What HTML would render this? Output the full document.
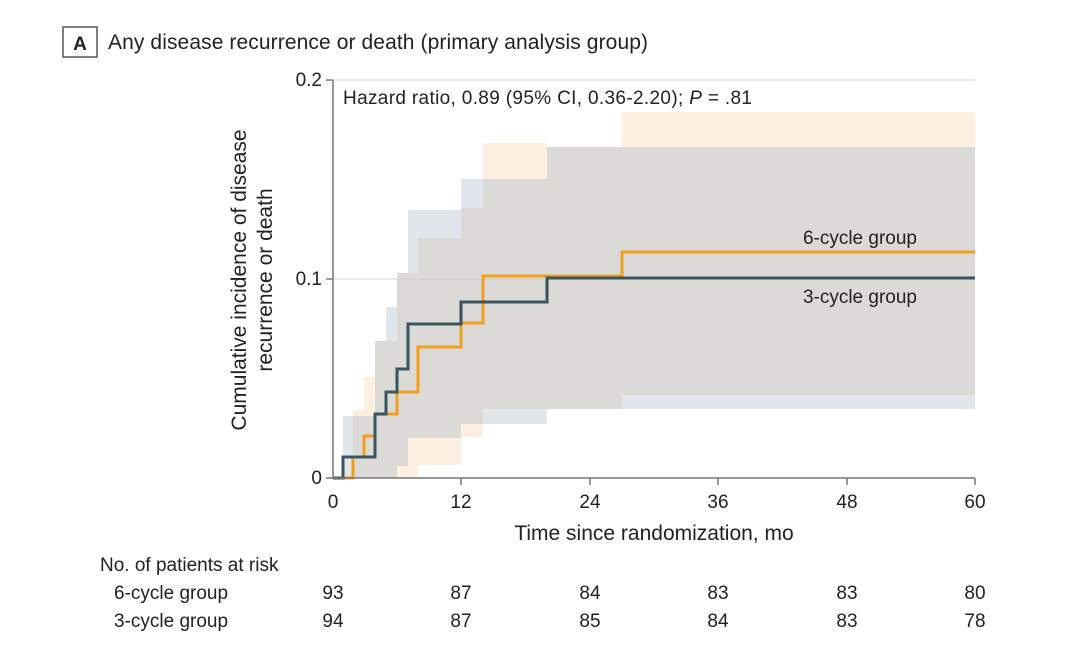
<!DOCTYPE html>
<html><head><style>
body{margin:0;background:#fff;}
svg text{font-family:"Liberation Sans",sans-serif;fill:#222;}
</style></head><body>
<svg width="1080" height="663" viewBox="0 0 1080 663" xmlns="http://www.w3.org/2000/svg">
<rect x="63" y="27" width="34" height="30" fill="none" stroke="#555" stroke-width="1.5"/>
<text x="80" y="50" font-size="19" font-weight="bold" text-anchor="middle">A</text>
<text x="108" y="49" font-size="21" textLength="540">Any disease recurrence or death (primary analysis group)</text>
<line x1="333" y1="80" x2="975" y2="80" stroke="#ddd" stroke-width="1.2"/>
<path fill="#fdf0e0" d="M353,478 L353,410 L364,410 L364,377 L375,377 L375,341 L397,341 L397,273 L418,273 L418,238 L461,238 L461,208 L483,208 L483,143 L547,143 L547,147 L622,147 L622,112 L975,112 L975,395 L622,395 L622,409 L483,409 L483,437 L461,437 L461,465 L418,465 L418,478 Z"/>
<path fill="#e0e6ec" d="M343,478 L343,416 L375,416 L375,341 L386,341 L386,307 L397,307 L397,273 L408,273 L408,210 L461,210 L461,179 L547,179 L547,147 L975,147 L975,409 L547,409 L547,424 L461,424 L461,438 L408,438 L408,466 L397,466 L397,478 Z"/>
<path fill="#dcdad6" d="M353,478 L353,416 L375,416 L375,341 L397,341 L397,273 L418,273 L418,238 L461,238 L461,208 L483,208 L483,179 L547,179 L547,147 L975,147 L975,395 L622,395 L622,409 L483,409 L483,424 L461,424 L461,438 L408,438 L408,466 L397,466 L397,478 Z"/>
<line x1="333" y1="279" x2="975" y2="279" stroke="#ccc" stroke-width="1.2" opacity="0.6"/>
<path fill="none" stroke="#f0a020" stroke-width="3" d="M333,478 L353,478 L353,457 L364,457 L364,436 L375,436 L375,414 L397,414 L397,392 L418,392 L418,347 L461,347 L461,323 L483,323 L483,276 L622,276 L622,252 L975,252"/>
<path fill="none" stroke="#385560" stroke-width="3" d="M333,478 L343,478 L343,457 L375,457 L375,414 L386,414 L386,392 L397,392 L397,369 L408,369 L408,324 L461,324 L461,302 L547,302 L547,278 L975,278"/>
<line x1="333" y1="80" x2="333" y2="479" stroke="#777" stroke-width="1.5"/>
<line x1="326" y1="80" x2="333" y2="80" stroke="#777" stroke-width="1.5"/>
<line x1="326" y1="279" x2="333" y2="279" stroke="#777" stroke-width="1.5"/>
<line x1="326" y1="478" x2="333" y2="478" stroke="#777" stroke-width="1.5"/>
<line x1="333" y1="478" x2="975" y2="478" stroke="#777" stroke-width="1.5"/>
<g stroke="#777" stroke-width="1.5">
<line x1="461" y1="478" x2="461" y2="485"/><line x1="590" y1="478" x2="590" y2="485"/><line x1="718" y1="478" x2="718" y2="485"/><line x1="847" y1="478" x2="847" y2="485"/><line x1="975" y1="478" x2="975" y2="485"/>
</g>
<g font-size="19" text-anchor="end">
<text x="322" y="86">0.2</text><text x="322" y="285">0.1</text><text x="322" y="484">0</text>
</g>
<g font-size="19" text-anchor="middle">
<text x="333" y="508">0</text><text x="461" y="508">12</text><text x="590" y="508">24</text><text x="718" y="508">36</text><text x="847" y="508">48</text><text x="975" y="508">60</text>
</g>
<text x="654" y="540" font-size="21" text-anchor="middle">Time since randomization, mo</text>
<text transform="translate(246,280) rotate(-90)" font-size="21" text-anchor="middle">Cumulative incidence of disease</text>
<text transform="translate(272,280) rotate(-90)" font-size="21" text-anchor="middle">recurrence or death</text>
<text x="343" y="104" font-size="19" textLength="409">Hazard ratio, 0.89 (95% CI, 0.36-2.20); <tspan font-style="italic">P</tspan> = .81</text>
<text x="917" y="244" font-size="19" text-anchor="end">6-cycle group</text>
<text x="917" y="303" font-size="19" text-anchor="end">3-cycle group</text>
<text x="100" y="571" font-size="19">No. of patients at risk</text>
<text x="114" y="599" font-size="19">6-cycle group</text>
<text x="114" y="627" font-size="19">3-cycle group</text>
<g font-size="19" text-anchor="middle">
<text x="333" y="599">93</text><text x="461" y="599">87</text><text x="590" y="599">84</text><text x="718" y="599">83</text><text x="847" y="599">83</text><text x="975" y="599">80</text>
<text x="333" y="627">94</text><text x="461" y="627">87</text><text x="590" y="627">85</text><text x="718" y="627">84</text><text x="847" y="627">83</text><text x="975" y="627">78</text>
</g>
</svg>
</body></html>
